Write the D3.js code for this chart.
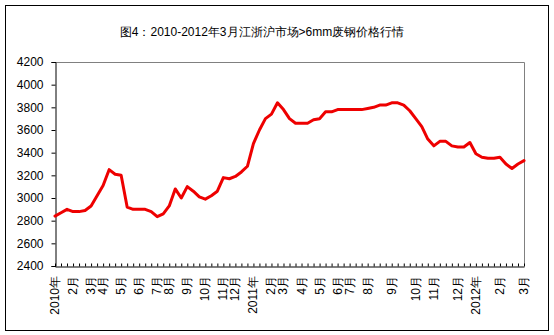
<!DOCTYPE html>
<html>
<head>
<meta charset="utf-8">
<script src="https://cdn.jsdelivr.net/npm/d3@7"></script>
<style>
  html, body { margin: 0; padding: 0; background: #fff; }
  svg { display: block; font-family: "Liberation Sans", Arial, sans-serif; }
</style>
</head>
<body>
<svg id="chart" width="554" height="335"></svg>
<script>
// Chart title
const title = "图4：2010-2012年3月江浙沪市场>6mm废钢价格行情";

// Price series (元/吨), one value per observation
const prices = [
  2840, 2870, 2900, 2880, 2880, 2890, 2930, 3020, 3110, 3250,
  3210, 3200, 2920, 2900, 2900, 2900, 2880, 2835, 2860, 2930,
  3080, 3000, 3100, 3060, 3010, 2990, 3020, 3060, 3180, 3170,
  3190, 3230, 3280, 3480, 3600, 3700, 3740, 3840, 3780, 3700,
  3660, 3660, 3660, 3690, 3700, 3760, 3760, 3780, 3780, 3780,
  3780, 3780, 3790, 3800, 3820, 3820, 3840, 3840, 3820, 3770,
  3700, 3630, 3520, 3460, 3500, 3500, 3460, 3450, 3450, 3490,
  3390, 3360, 3350, 3350, 3360, 3300, 3260, 3300, 3330
];

// Month labels and the observation index where each month starts
const monthLabels = [
  "2010年", "2月", "3月", "4月", "5月", "6月", "7月", "8月", "9月", "10月", "11月", "12月",
  "2011年", "2月", "3月", "4月", "5月", "6月", "7月", "8月", "9月", "10月", "11月", "12月",
  "2012年", "2月", "3月"
];
const monthIndex = [
  0, 3, 6, 8, 11, 14, 17, 19, 22, 25, 28, 30,
  33, 36, 38, 41, 44, 47, 49, 52, 56, 60, 63, 67,
  70, 74, 78
];

// Y axis ticks
const yTicks = [2400, 2600, 2800, 3000, 3200, 3400, 3600, 3800, 4000, 4200];

const svg = d3.select("#chart");
const plot = { left: 55, right: 524, top: 62, bottom: 266 };

// Outer frame
svg.append("rect")
  .attr("x", 5.5).attr("y", 5.5)
  .attr("width", 543).attr("height", 325)
  .attr("fill", "#fff").attr("stroke", "#000").attr("stroke-width", 1);

// Title
svg.append("text")
  .attr("x", 262).attr("y", 36)
  .attr("text-anchor", "middle")
  .attr("font-size", 12)
  .attr("fill", "#000")
  .text(title);

const x = d3.scalePoint()
  .domain(d3.range(prices.length))
  .range([plot.left, plot.right]);

const y = d3.scaleLinear()
  .domain([2400, 4200])
  .range([plot.bottom, plot.top]);

// Plot area border (top and right)
svg.append("path")
  .attr("d", `M${plot.left},${plot.top + 0.5}H${plot.right + 0.5}V${plot.bottom}`)
  .attr("fill", "none").attr("stroke", "#808080").attr("stroke-width", 1);

// Y axis
const yAxis = d3.axisLeft(y).tickValues(yTicks).tickSize(4).tickPadding(8).tickFormat(d3.format("d"));
const gy = svg.append("g")
  .attr("transform", `translate(${plot.left + 0.5},0)`)
  .call(yAxis);
gy.select(".domain").attr("stroke", "#000");
gy.selectAll(".tick line").attr("stroke", "#000");
gy.selectAll(".tick text")
  .attr("font-size", 12)
  .attr("font-family", "'Liberation Sans', Arial, sans-serif")
  .attr("fill", "#000");

// X axis: tick at every observation, pointing into the plot
const labelAt = new Map(monthIndex.map((idx, k) => [idx, monthLabels[k]]));
const xAxis = d3.axisBottom(x).tickSize(-3).tickSizeOuter(0).tickFormat(() => "");
const gx = svg.append("g")
  .attr("transform", `translate(0,${plot.bottom + 0.5})`)
  .call(xAxis);
gx.select(".domain").attr("stroke", "#000");
gx.selectAll(".tick line").attr("stroke", "#000");

// Rotated month labels
svg.append("g")
  .selectAll("text")
  .data(monthIndex)
  .join("text")
  .attr("transform", d => `translate(${x(d) + 4},276) rotate(-90)`)
  .attr("text-anchor", "end")
  .attr("font-size", 12)
  .attr("fill", "#000")
  .text(d => labelAt.get(d));

// Price line
const line = d3.line()
  .x((d, i) => x(i))
  .y(d => y(d));

svg.append("path")
  .datum(prices)
  .attr("d", line)
  .attr("fill", "none")
  .attr("stroke", "#ee0000")
  .attr("stroke-width", 3)
  .attr("stroke-linejoin", "round")
  .attr("stroke-linecap", "round");
</script>
</body>
</html>
